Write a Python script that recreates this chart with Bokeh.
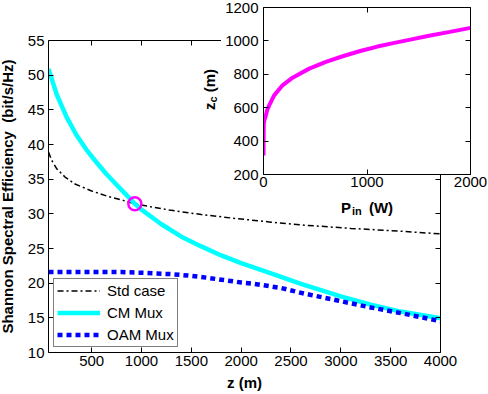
from bokeh.plotting import figure
from bokeh.models import Range1d, FixedTicker, LinearAxis, Legend, LegendItem, Div
from bokeh.embed import file_html
from bokeh.resources import INLINE

# ---------------- data ----------------
z_std = [67, 100, 150, 233, 333, 500, 667, 800, 933, 1100, 1300, 1600, 1900, 2300, 2600, 3100, 3600, 4000]
se_std = [38.9, 37.7, 36.5, 35.3, 34.3, 33.3, 32.5, 32.0, 31.45, 31.0, 30.5, 29.9, 29.4, 28.8, 28.4, 27.9, 27.5, 27.1]

z_cm = [67, 150, 250, 350, 450, 550, 650, 750, 850, 933, 1000, 1200, 1400, 1600, 1800, 2000, 2300, 2600, 3000, 3300, 3600, 4000]
se_cm = [50.9, 47.2, 43.9, 41.3, 39.2, 37.4, 35.7, 34.2, 32.7, 31.45, 30.6, 28.5, 26.7, 25.3, 24.0, 22.9, 21.4, 19.9, 18.1, 16.9, 15.9, 14.95]

z_oam = [67, 500, 800, 1000, 1133, 1300, 1467, 1650, 1800, 2000, 2133, 2400, 2633, 2967, 3300, 3633, 4000]
se_oam = [21.6, 21.6, 21.6, 21.5, 21.4, 21.3, 21.1, 20.8, 20.5, 20.1, 19.9, 19.3, 18.5, 17.5, 16.5, 15.6, 14.5]

z_cross = [933]
se_cross = [31.45]

p_in = [0, 1, 3, 10, 19, 35, 55, 103, 184, 281, 442, 603, 765, 926, 1100, 1265, 1430, 1587, 1800, 2000]
z_c = [314, 420, 504, 530, 544, 585, 614, 674, 734, 780, 834, 874, 908, 938, 966, 988, 1009, 1029, 1054, 1078]

main_x_ticks = [500, 1000, 1500, 2000, 2500, 3000, 3500, 4000]
main_y_ticks = [10, 15, 20, 25, 30, 35, 40, 45, 50, 55]
inset_x_ticks = [0, 1000, 2000]
inset_y_ticks = [200, 400, 600, 800, 1000, 1200]

legend_labels = ["Std case", "CM Mux", "OAM Mux"]

FONT = "Liberation Sans"


def style_axis(ax, ticks, labels=True):
    ax.ticker = FixedTicker(ticks=ticks)
    ax.minor_tick_line_color = None
    ax.major_tick_in = 5
    ax.major_tick_out = 0
    ax.axis_line_color = "black"
    ax.axis_line_width = 1
    ax.major_tick_line_color = "black"
    ax.major_label_text_font = FONT
    ax.major_label_text_font_size = "15px"
    ax.major_label_text_color = "black"
    ax.major_label_standoff = 3
    ax.axis_label_text_font = FONT
    ax.axis_label_text_font_size = "15px"
    ax.axis_label_text_font_style = "bold"
    ax.axis_label_text_color = "black"
    ax.axis_label_standoff = 5
    if not labels:
        ax.major_label_overrides = {t: "" for t in ticks}
        ax.major_label_text_font_size = "0px"
        ax.major_label_standoff = 0


# ---------------- main plot ----------------
p = figure(width=485, height=394, x_range=Range1d(67, 4000), y_range=Range1d(10, 55),
           output_backend="svg", toolbar_location=None,
           min_border_left=52, min_border_right=40, min_border_top=40, min_border_bottom=42,
           styles={"position": "absolute", "left": "-5px", "top": "0px"})
p.grid.visible = False
p.outline_line_color = None
p.background_fill_color = "white"
p.border_fill_color = "white"

p.add_layout(LinearAxis(), "above")
p.add_layout(LinearAxis(), "right")
style_axis(p.below[0], main_x_ticks)
style_axis(p.left[0], main_y_ticks)
style_axis(p.above[0], main_x_ticks, labels=False)
style_axis(p.right[0], main_y_ticks, labels=False)
p.below[0].axis_label = "z (m)"
p.left[0].axis_label = "Shannon Spectral Efficiency\u00a0 (bit/s/Hz)"
p.left[0].major_label_standoff = 4
p.left[0].axis_label_standoff = 9

r_std = p.line(z_std, se_std, line_color="black", line_width=1.5, line_dash="6 3 2 3")
r_cm = p.line(z_cm, se_cm, line_color="#00FFFF", line_width=4.5)
r_oam = p.line(z_oam, se_oam, line_color="#0000FF", line_width=4.5, line_dash="5 4")
p.scatter(z_cross, se_cross, marker="circle", size=13, fill_color=None,
          line_color="#FF00FF", line_width=2.5)

legend = Legend(items=[LegendItem(label=legend_labels[0], renderers=[r_std]),
                       LegendItem(label=legend_labels[1], renderers=[r_cm]),
                       LegendItem(label=legend_labels[2], renderers=[r_oam])],
                location="bottom_left")
legend.border_line_color = "black"
legend.border_line_width = 1
legend.background_fill_color = "white"
legend.background_fill_alpha = 1
legend.label_text_font = FONT
legend.label_text_font_size = "15px"
legend.label_text_color = "black"
legend.glyph_width = 43
legend.glyph_height = 17
legend.label_height = 17
legend.label_standoff = 7
legend.spacing = 5
legend.padding = 3
legend.margin = 5
p.add_layout(legend)

# ---------------- white cover behind the inset ----------------
cover = Div(text="", width=267, height=174, margin=0,
            styles={"position": "absolute", "left": "221px", "top": "0px",
                    "background-color": "white"})

# ---------------- inset ----------------
ins = figure(width=287, height=219, x_range=Range1d(0, 2000), y_range=Range1d(200, 1200),
             output_backend="svg", toolbar_location=None,
             min_border_left=63, min_border_right=17, min_border_top=7, min_border_bottom=45,
             styles={"position": "absolute", "left": "200px", "top": "0px"})
ins.grid.visible = False
ins.outline_line_color = None
ins.background_fill_color = "white"
ins.border_fill_alpha = 0
ins.add_layout(LinearAxis(), "above")
ins.add_layout(LinearAxis(), "right")
style_axis(ins.below[0], inset_x_ticks)
style_axis(ins.left[0], inset_y_ticks)
style_axis(ins.above[0], inset_x_ticks, labels=False)
style_axis(ins.right[0], inset_y_ticks, labels=False)
ins.left[0].major_label_standoff = 5
ins.below[0].major_label_standoff = 2

ins.line(p_in, z_c, line_color="#FF00FF", line_width=4)

# inset axis titles with subscripts, as HTML text
title_style = {"font-family": FONT, "font-size": "15px", "font-weight": "bold",
               "line-height": "17px", "white-space": "nowrap", "color": "black"}

xlab = Div(text='P<span style="font-size:11px;position:relative;top:2px;margin-left:1px">in</span>'
                '&nbsp;<span style="margin-left:3px">(W)</span>',
           width=60, height=17, margin=0,
           styles=dict(title_style, **{"position": "absolute", "left": "341px", "top": "199px"}))

ylab = Div(text='z<span style="font-size:11px;position:relative;top:2px">c</span>&nbsp;(m)',
           width=44, height=17, margin=0,
           styles=dict(title_style, **{"position": "absolute", "left": "201px", "top": "110px",
                                       "transform": "rotate(-90deg)",
                                       "transform-origin": "0 0"}))

open("out.html", "w").write(file_html([p, cover, ins, xlab, ylab], INLINE))
